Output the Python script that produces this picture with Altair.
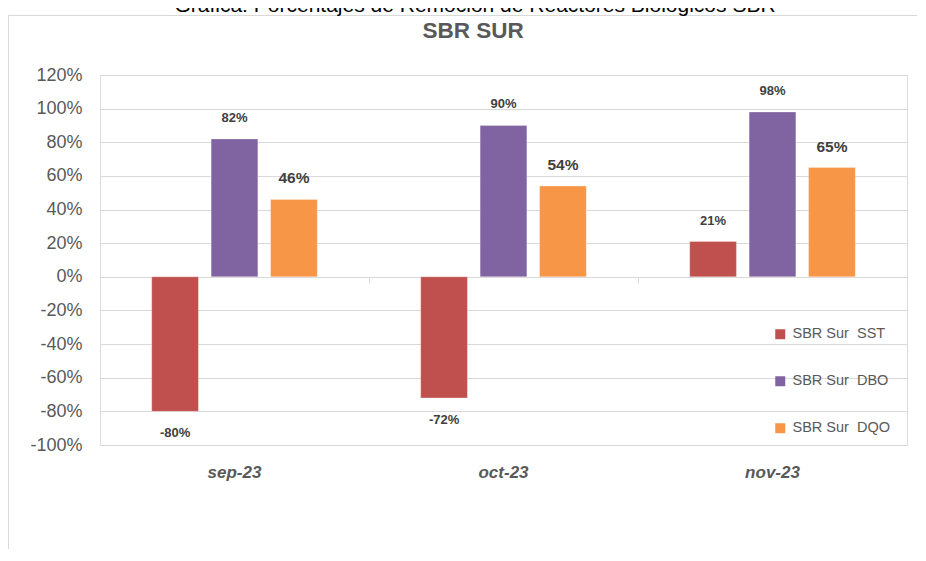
import altair as alt
import pandas as pd

months = ["sep-23", "oct-23", "nov-23"]
series = ["SBR Sur\u00a0 SST", "SBR Sur\u00a0 DBO", "SBR Sur\u00a0 DQO"]
sst = [-0.80, -0.72, 0.21]
dbo = [0.82, 0.90, 0.98]
dqo = [0.46, 0.54, 0.65]
colors = ["#C0504D", "#8064A2", "#F79646"]
y_ticks = [-1.0, -0.8, -0.6, -0.4, -0.2, 0.0, 0.2, 0.4, 0.6, 0.8, 1.0, 1.2]
title_text = "SBR SUR"
caption_text = "Gráfica: Porcentajes de Remoción de Reactores Biológicos SBR"

rows = []
for s, vals in zip(series, [sst, dbo, dqo]):
    for m, v in zip(months, vals):
        rows.append({"month": m, "series": s, "value": v,
                     "label": f"{round(v * 100)}%"})
df = pd.DataFrame(rows)

W, H = 807, 370
FONT = "Liberation Sans"

x_enc_bar = alt.X("month:N", sort=months, title=None,
                  scale=alt.Scale(paddingInner=0, paddingOuter=0),
                  axis=alt.Axis(orient="bottom", domain=False, ticks=False,
                                labelAngle=0, labelFontSize=17, labelFontWeight="bold",
                                labelFontStyle="italic", labelColor="#595959",
                                labelPadding=19, labelFont=FONT))
x_enc_zero = alt.X("month:N", sort=months, title=None,
                   axis=alt.Axis(orient="bottom", offset=-168, labels=False,
                                 domain=True, domainColor="#d9d9d9", ticks=True,
                                 tickColor="#d9d9d9", tickSize=6, tickBand="extent",
                                 grid=False))
x_enc_none = alt.X("month:N", sort=months, title=None, axis=None)

xoff = alt.XOffset("series:N", sort=series,
                   scale=alt.Scale(paddingInner=0.214, paddingOuter=0.87))

y_enc = alt.Y("value:Q", title=None,
              scale=alt.Scale(domain=[-1.0, 1.2], nice=False, zero=False),
              axis=alt.Axis(values=y_ticks, domain=False, ticks=False,
                            grid=True, gridColor="#d9d9d9", gridWidth=1,
                            labelFontSize=18, labelColor="#595959", labelPadding=18,
                            labelFont=FONT,
                            labelExpr="replace(format(datum.value, '.0%'), '\u2212', '-')"))

color_enc = alt.Color("series:N", sort=series, title=None,
                      scale=alt.Scale(domain=series, range=colors),
                      legend=alt.Legend(orient="none", legendX=673, legendY=252,
                                        symbolType="square", symbolSize=100,
                                        symbolStrokeWidth=0,
                                        labelFontSize=14.5, labelColor="#595959",
                                        labelFont=FONT, labelOffset=5,
                                        rowPadding=32, padding=0))

base = alt.Chart(df)

bars = base.mark_bar(stroke="white", strokeOpacity=0.35, strokeWidth=0.8).encode(
    x=x_enc_bar, xOffset=xoff, y=y_enc, color=color_enc
)

label_base = base.transform_calculate(
    fs="indexof(datum.series, 'DQO') >= 0 ? 15.5 : 13"
)
size_enc = alt.Size("fs:Q", scale=None, legend=None)

pos_labels = label_base.transform_filter("datum.value >= 0").mark_text(
    fontWeight="bold", color="#404040", baseline="middle", dy=-21, font=FONT
).encode(x=x_enc_zero, xOffset=xoff, y=y_enc, text="label:N", size=size_enc)

neg_labels = label_base.transform_filter("datum.value < 0").mark_text(
    fontWeight="bold", color="#404040", baseline="middle", dy=22, font=FONT
).encode(x=x_enc_none, xOffset=xoff, y=y_enc, text="label:N", size=size_enc)

one = pd.DataFrame({"k": [0]})

frame = alt.Chart(one).mark_rect(filled=False, stroke="#d9d9d9", strokeWidth=1).encode(
    x=alt.value(-91.5), x2=alt.value(900), y=alt.value(-59.5), y2=alt.value(600)
)

title = alt.Chart(one).mark_text(
    text=title_text, fontSize=22.5, fontWeight="bold", color="#595959",
    align="center", baseline="alphabetic", font=FONT
).encode(x=alt.value(373), y=alt.value(-36.7))

caption = alt.Chart(one).mark_text(
    text=caption_text, fontSize=21, color="#000000",
    align="center", baseline="alphabetic", font=FONT
).encode(x=alt.value(375), y=alt.value(-63))

chart = alt.layer(frame, caption, title, bars, pos_labels, neg_labels).resolve_axis(
    x="independent"
).properties(
    width=W, height=H,
    autosize=alt.AutoSizeParams(type="none"),
    padding={"left": 92, "top": 67, "right": 10, "bottom": 104},
).configure_view(strokeWidth=0, stroke="transparent").configure(font=FONT)

chart.save("out.html", embed_options={"renderer": "svg", "actions": False})
